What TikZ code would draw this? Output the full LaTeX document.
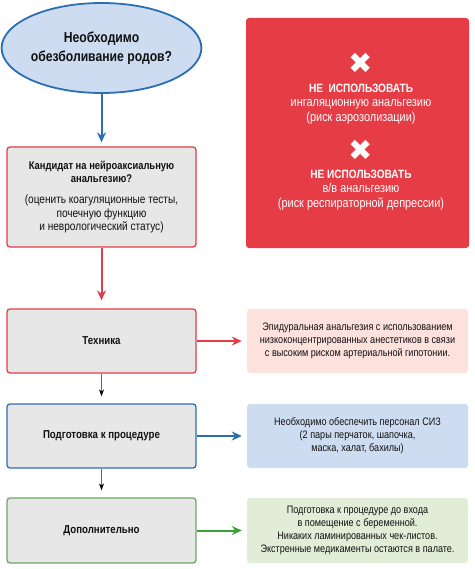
\documentclass[tikz,border=0pt]{standalone}
\usepackage{fontspec}
\setmainfont{Liberation Sans}[FakeStretch=0.84]
\newfontfamily\symfont{DejaVu Sans}
\usetikzlibrary{shapes.geometric,arrows.meta,positioning}

\definecolor{myblue}{HTML}{2B6FB3}
\definecolor{lightblue}{HTML}{CEDCF1}
\definecolor{myred}{HTML}{E23D48}
\definecolor{boxred}{HTML}{E63C46}
\definecolor{lightpink}{HTML}{FCE1DD}
\definecolor{mygreen}{HTML}{3E9E3A}
\definecolor{greenline}{HTML}{6FA467}
\definecolor{lightgreen}{HTML}{E2EDD8}
\definecolor{boxgray}{HTML}{E7E7E7}
\definecolor{txt}{HTML}{111111}

\tikzset{
  step box/.style={rectangle, rounded corners=3pt, fill=boxgray, line width=1.3pt,
    minimum width=189pt, align=center, text=txt, inner sep=2pt},
  info box/.style={rectangle, rounded corners=3pt, minimum width=221pt,
    minimum height=64pt, align=center, text=txt, inner sep=2pt,
    font=\fontsize{10.8}{13}\selectfont},
  flow/.style={line width=2pt, -{Stealth[length=10pt,width=9pt]}},
  thin flow/.style={line width=1pt, draw=gray!80!black,
    -{Stealth[length=7pt,width=5pt,color=black]}},
  cross mark/.style={text=white, inner sep=0pt, font=\symfont\fontsize{29}{29}\selectfont},
}

\begin{document}
\begin{tikzpicture}[x=1pt,y=-1pt]
  \useasboundingbox (0,0) rectangle (474,569);

  % left column
  \node[ellipse, draw=myblue, fill=lightblue, line width=1.8pt, minimum width=188pt,
    minimum height=90pt, inner sep=0pt, align=center, text=txt,
    font=\bfseries\fontsize{14.5}{18.5}\selectfont] (need) at (101.5,48) {Необходимо\\обезболивание родов?};

  \node[step box, draw=myred, minimum height=100pt,
    font=\fontsize{12}{13.6}\selectfont] (cand) at (101.5,197)
    {{\fontsize{11.2}{14}\selectfont\textbf{Кандидат на нейроаксиальную}}\\
     {\fontsize{11.2}{14}\selectfont\textbf{анальгезию?}}\\[7pt]
     (оценить коагуляционные тесты,\\почечную функцию\\и неврологический статус)};

  \node[step box, draw=myred, minimum height=64pt,
    font=\bfseries\fontsize{11.5}{14}\selectfont] (tech) at (101.5,341) {Техника};
  \node[step box, draw=myblue, minimum height=64pt,
    font=\bfseries\fontsize{11.5}{14}\selectfont] (prep) at (101.5,436) {Подготовка к процедуре};
  \node[step box, draw=greenline, minimum height=65pt,
    font=\bfseries\fontsize{11.5}{14}\selectfont] (extra) at (101.5,530.5) {Дополнительно};

  % right column
  \node[rectangle, rounded corners=3pt, fill=boxred, minimum width=223pt,
    minimum height=230pt] (warn) at (357.5,133) {};
  \node[cross mark] (cross1) at (361,63) {✖};
  \node[text=white, align=center, font=\fontsize{13}{14.5}\selectfont] (inhal) at (361,104)
    {{\fontsize{12}{14.5}\selectfont\textbf{НЕ\ \ ИСПОЛЬЗОВАТЬ}}\\ингаляционную анальгезию\\(риск аэрозолизации)};
  \node[cross mark] (cross2) at (361,150) {✖};
  \node[text=white, align=center, font=\fontsize{13}{14.5}\selectfont] (iv) at (361,190)
    {{\fontsize{12}{14.5}\selectfont\textbf{НЕ ИСПОЛЬЗОВАТЬ}}\\в/в анальгезию\\(риск респираторной депрессии)};

  \node[info box, fill=lightpink] (epid) at (357.5,341)
    {Эпидуральная анальгезия с использованием\\низкоконцентрированных анестетиков в связи\\с высоким риском артериальной гипотонии.};
  \node[info box, fill=lightblue] (ppe) at (357.5,436)
    {Необходимо обеспечить персонал СИЗ\\(2 пары перчаток, шапочка,\\маска, халат, бахилы)};
  \node[info box, fill=lightgreen, minimum height=65pt] (room) at (357.5,530.5)
    {Подготовка к процедуре до входа\\в помещение с беременной.\\Никаких ламинированных чек-листов.\\Экстренные медикаменты остаются в палате.};

  % arrows
  \draw[flow, myblue, shorten >=4pt] (need) -- (cand);
  \draw[flow, myred, shorten >=8pt] (cand) -- (tech);
  \draw[thin flow, shorten >=7pt] (tech) -- (prep);
  \draw[thin flow, shorten >=7pt] (prep) -- (extra);

  \draw[flow, myred, shorten >=5pt] (tech) -- (epid);
  \draw[flow, myblue, shorten >=5pt] (prep) -- (ppe);
  \draw[flow, mygreen, shorten >=5pt] (extra) -- (room);
\end{tikzpicture}
\end{document}
